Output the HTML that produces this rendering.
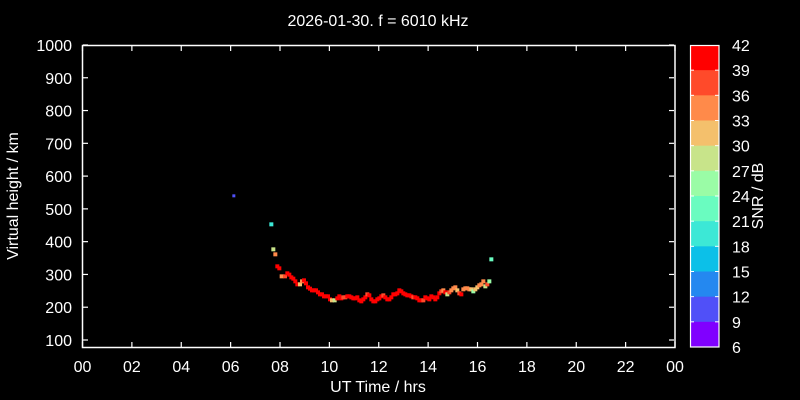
<!DOCTYPE html>
<html><head><meta charset="utf-8"><style>
html,body{margin:0;padding:0;background:#000;}
svg{display:block;font-family:"Liberation Sans",sans-serif;}
</style></head><body>
<svg id="s" width="800" height="400" xmlns="http://www.w3.org/2000/svg">
<rect width="800" height="400" fill="#000"/>
<text x="378" y="26" fill="#fff" font-size="16" text-anchor="middle">2026-01-30. f = 6010 kHz</text>
<g id="pts"></g>
<rect x="82.5" y="45.5" width="592.5" height="302" fill="none" stroke="#fff" stroke-width="1.5"/>
<g id="ax" stroke="#fff" stroke-width="1.2"></g>
<g id="lb" fill="#fff" font-size="16"></g>
<text x="378" y="392" fill="#fff" font-size="16" text-anchor="middle">UT Time / hrs</text>
<text transform="translate(18,196) rotate(-90)" fill="#fff" font-size="16" text-anchor="middle">Virtual height / km</text>
<g id="cb"></g>
<text transform="translate(763,196) rotate(-90)" fill="#fff" font-size="16" text-anchor="middle">SNR / dB</text>
</svg>
<script>
var NS="http://www.w3.org/2000/svg";
function el(p,t,a,txt){var e=document.createElementNS(NS,t);for(var k in a)e.setAttribute(k,a[k]);if(txt!=null)e.textContent=txt;document.getElementById(p).appendChild(e);return e;}
var x0=82.5,x1=675,yb=347.5;
function X(h){return x0+(x1-x0)*h/24;}
function Y(v){return 340-(v-100)*0.3278;}
for(var h=0;h<=24;h+=2){var x=X(h);el("ax","line",{x1:x,x2:x,y1:347,y2:342});el("ax","line",{x1:x,x2:x,y1:46,y2:51});
var hh=h%24;el("lb","text",{x:x,y:372,"text-anchor":"middle"},(hh<10?"0":"")+hh);}
for(var v=100;v<=1000;v+=100){var y=Y(v);el("ax","line",{x1:83,x2:88,y1:y,y2:y});el("ax","line",{x1:674,x2:669,y1:y,y2:y});
el("lb","text",{x:72,y:y+6,"text-anchor":"end"},v);}
var cols=["#ff0000","#ff4a2a","#ff8a4a","#f4c06c","#c8e48a","#9afca6","#6afcc0","#3ce8d6","#0cc0e8","#2488f0","#5050f8","#8000ff"];
var bh=(347-45)/12;
for(var i=0;i<12;i++){el("cb","rect",{x:690,y:45+i*bh,width:29,height:bh+0.5,fill:cols[i]});}
el("cb","rect",{x:690.5,y:45.5,width:28.5,height:301.5,fill:"none",stroke:"#fff","stroke-width":1.2});
var labs=[42,39,36,33,30,27,24,21,18,15,12,9,6];
for(var i=0;i<13;i++){var y=45+i*bh;if(i>0&&i<12){el("cb","line",{x1:690,x2:694,y1:y,y2:y,stroke:"#fff"});el("cb","line",{x1:719,x2:715,y1:y,y2:y,stroke:"#fff"});}
el("cb","text",{x:732,y:y+6,fill:"#fff","font-size":16},labs[i]);}
var P=[[13,49,10],[124,133,7],[130,208,4],[136,223,2],[142,259,0],[148,265,0],
[155,289,2],[165,289,1],[172,280,0],[178,284,0],[184,292,0],[190,296,0],[196,304,0],[202,313,0],[210,313,3],[216,304,2],[222,301,0],[228,310,0],[234,322,0],[240,326,0],[246,331,0],[252,331,0],[258,331,0],[264,337,0],[270,343,0],[276,343,0],[282,349,0],[288,349,0],[294,349,0],[300,358,0],[306,361,3],[314,361,4],[322,355,0],[328,349,0],[334,355,0],[340,352,1],[346,352,1],[352,349,0],[358,349,0],[364,352,0],[370,355,0],[376,355,0],[382,352,0],[388,361,0],[394,364,0],[400,358,0],[406,352,0],[412,343,1],[418,346,0],[424,358,0],[430,364,0],[436,364,0],[442,358,0],[448,355,0],[454,349,0],[460,346,1],[466,352,0],[472,358,0],[478,358,0],[484,352,0],[490,343,0],[496,343,0],[502,340,0],[508,331,0],[514,334,0],[520,340,0],[526,343,0],[532,346,0],[538,346,0],[544,349,0],[550,352,1],[556,352,0],[562,355,0],[568,361,0],[574,361,0],[580,361,1],[586,352,0],[592,355,0],[598,358,0],[604,349,0],[610,352,0],[616,358,0],[622,352,0],[628,340,0],[634,334,1],[640,331,2],[646,337,0],[652,343,4],[658,337,1],[664,331,2],[670,325,2],[676,322,2],[682,331,3],[688,340,1],[694,343,0],[700,328,2],[706,325,2],[712,325,2],[718,328,2],[724,328,3],[730,334,5],[736,328,3],[742,322,3],[748,316,2],[754,313,2],[760,304,2],[766,319,4],[772,313,1],[778,304,5],[784,238,6]];
P.forEach(function(p){var x=p[0]/3+230,y=p[1]/3+180;el("pts","rect",{x:x-2,y:y-2,width:p[0]==13?3:4,height:p[0]==13?3:4,fill:cols[p[2]]});});
</script>
</body></html>
